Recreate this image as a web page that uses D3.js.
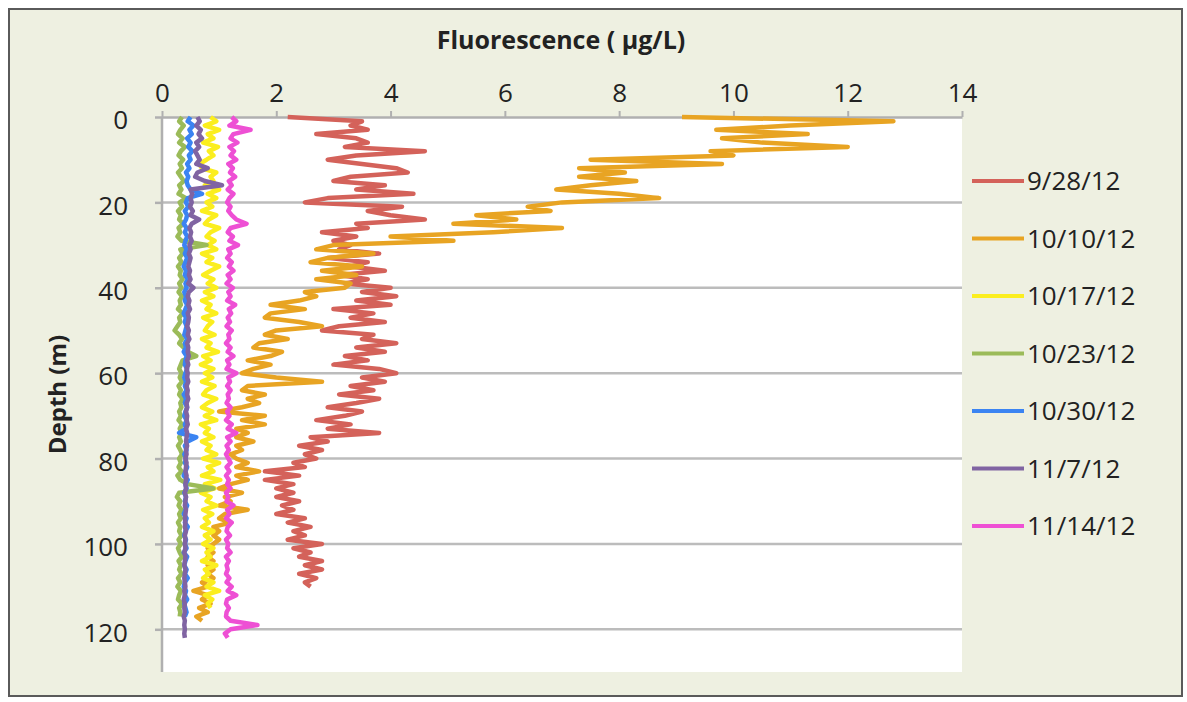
<!DOCTYPE html>
<html>
<head>
<meta charset="utf-8">
<script src="https://cdn.jsdelivr.net/npm/d3@7"></script>
<style>
  html, body { margin: 0; padding: 0; background: #fff; }
  svg { display: block; font-family: "Open Sans", sans-serif; }
</style>
</head>
<body>
<svg id="chart" width="1187" height="702"></svg>
<script>
// series names + colours (legend order)
const seriesNames = ['9/28/12', '10/10/12', '10/17/12', '10/23/12', '10/30/12', '11/7/12', '11/14/12'];
const seriesColors = ['#d4625a', '#e8a423', '#fbee1f', '#9bbb59', '#3b84f2', '#8064a2', '#ee50d4'];

const xTicks = [0, 2, 4, 6, 8, 10, 12, 14];
const yTicks = [0, 20, 40, 60, 80, 100, 120];

// fluorescence (ug/L) sampled every 1 m from the surface
const fl_0928 = [
  2.2, 3.5, 3.3, 3.6, 2.7, 3.4, 3.6, 3.2, 4.6, 3.4,
  2.9, 3.5, 4.1, 4.3, 3.3, 3.0, 3.9, 3.4, 4.4, 2.9,
  2.5, 4.2, 3.6, 4.0, 4.6, 3.4, 3.6, 2.8, 3.4, 3.0,
  3.3, 3.1, 3.8, 2.9, 3.6, 3.3, 3.9, 3.1, 3.6, 3.2,
  4.0, 3.5, 4.1, 3.4, 4.0, 3.0, 3.7, 3.3, 3.9, 3.1,
  2.8, 3.7, 3.5, 4.1, 3.4, 3.9, 3.2, 3.6, 3.0, 3.8,
  4.1, 3.5, 3.9, 3.3, 3.7, 3.1, 3.8, 3.4, 2.9, 3.5,
  3.2, 2.7, 3.3, 2.9, 3.8, 2.6, 2.9, 2.4, 2.8, 2.5,
  2.7, 2.3, 2.5, 1.8, 2.4, 1.8, 2.3, 2.0, 2.3, 2.0,
  2.4, 2.1, 2.3, 2.0, 2.5, 2.2, 2.6, 2.3, 2.5, 2.2,
  2.8, 2.3, 2.6, 2.4, 2.8, 2.5, 2.8, 2.4, 2.7, 2.5,
  2.6
];
const fl_1010 = [
  9.1, 12.8, 11.0, 9.7, 11.3, 9.8, 10.5, 12.0, 9.6, 10.0,
  7.5, 9.8, 7.3, 8.1, 7.3, 8.3, 7.5, 6.9, 8.0, 8.7,
  7.0, 6.4, 6.8, 5.5, 6.2, 5.1, 7.0, 5.8, 4.0, 5.1,
  3.0, 2.7, 3.7, 2.9, 2.6, 3.5, 2.8, 3.4, 2.7, 3.3,
  3.2, 2.5, 2.7, 2.4, 1.9, 2.5, 1.9, 1.8, 2.4, 2.8,
  2.0, 1.8, 2.2, 1.7, 1.6, 2.1, 1.9, 1.5, 1.9, 1.6,
  1.4, 2.0, 2.8, 1.5, 1.4, 1.8, 1.5, 1.7, 1.4, 1.0,
  1.8, 1.4, 1.8, 1.3, 1.5, 1.3, 1.6, 1.3, 1.4, 1.2,
  1.3, 1.5, 1.3, 1.7, 1.3, 1.5, 1.2, 1.0, 1.4, 1.1,
  1.2, 1.0, 1.5, 1.1, 1.0, 1.2, 0.9, 1.0, 0.9, 1.0,
  0.9, 0.8, 0.9, 0.8, 0.9, 0.8, 0.9, 0.8, 0.9, 0.7,
  0.8, 0.55, 0.8, 0.7, 0.85, 0.65, 0.8, 0.6, 0.7
];
const fl_1017 = [
  0.85, 0.95, 0.75, 1.0, 0.8, 0.9, 0.72, 0.98, 0.82, 0.9,
  0.78, 0.65, 0.7, 0.95, 0.85, 0.9, 0.75, 1.0, 0.8, 0.95,
  0.78, 0.88, 0.7, 0.95, 0.82, 0.75, 1.0, 0.85, 0.78, 0.92,
  0.8, 0.95, 0.7, 0.88, 0.78, 1.0, 0.85, 0.72, 0.9, 0.8,
  0.95, 0.75, 0.9, 0.7, 0.85, 0.78, 0.95, 0.72, 0.88, 0.8,
  0.75, 0.92, 0.7, 0.85, 0.78, 0.98, 0.72, 0.85, 0.68, 0.9,
  0.75, 0.88, 0.7, 0.92, 0.78, 0.72, 0.95, 0.8, 0.7, 0.88,
  0.75, 0.95, 0.68, 0.82, 0.75, 0.9, 0.7, 0.85, 0.78, 0.95,
  0.72, 1.0, 0.8, 0.9, 0.7, 1.02, 0.75, 0.92, 0.68, 0.85,
  0.78, 0.95, 0.72, 0.88, 0.75, 0.82, 0.7, 0.9, 0.75, 0.85,
  0.72, 0.9, 0.78, 0.85, 0.7, 0.95, 0.75, 0.82, 0.72, 0.9,
  0.78, 1.0, 0.75, 0.88, 0.8, 0.85
];
const fl_1023 = [
  0.35, 0.3, 0.38, 0.32, 0.28, 0.36, 0.3, 0.4, 0.33, 0.29,
  0.37, 0.31, 0.35, 0.28, 0.33, 0.38, 0.3, 0.34, 0.29, 0.42,
  0.31, 0.35, 0.28, 0.33, 0.3, 0.37, 0.29, 0.32, 0.27, 0.34,
  0.78, 0.32, 0.36, 0.3, 0.34, 0.28, 0.33, 0.31, 0.36, 0.3,
  0.34, 0.29, 0.35, 0.31, 0.33, 0.28, 0.36, 0.3, 0.32, 0.27,
  0.22, 0.3, 0.35, 0.3, 0.38, 0.45, 0.6, 0.36, 0.33, 0.3,
  0.34, 0.31, 0.35, 0.29, 0.33, 0.3, 0.36, 0.32, 0.34, 0.3,
  0.33, 0.29, 0.35, 0.31, 0.34, 0.3, 0.33, 0.28, 0.32, 0.35,
  0.3, 0.33, 0.29, 0.34, 0.27, 0.32, 0.45, 0.9, 0.3, 0.26,
  0.32, 0.29, 0.34, 0.3, 0.33, 0.28, 0.32, 0.3, 0.34, 0.29,
  0.33, 0.28, 0.31, 0.35, 0.29, 0.33, 0.3, 0.34, 0.28, 0.32,
  0.27, 0.33, 0.3, 0.28, 0.35, 0.3, 0.32, 0.31
];
const fl_1030 = [
  0.5, 0.45, 0.55, 0.48, 0.52, 0.44, 0.5, 0.46, 0.53, 0.47,
  0.5, 0.44, 0.48, 0.42, 0.46, 0.43, 0.45, 0.5, 0.7, 0.45,
  0.42, 0.46, 0.4, 0.44, 0.42, 0.38, 0.43, 0.4, 0.44, 0.41,
  0.39, 0.43, 0.4, 0.44, 0.41, 0.38, 0.42, 0.4, 0.45, 0.41,
  0.43, 0.39, 0.42, 0.4, 0.44, 0.41, 0.38, 0.42, 0.4, 0.43,
  0.41, 0.39, 0.44, 0.4, 0.42, 0.38, 0.43, 0.41, 0.4, 0.44,
  0.41, 0.39, 0.42, 0.4, 0.43, 0.38, 0.42, 0.4, 0.44, 0.41,
  0.39, 0.43, 0.4, 0.42, 0.3, 0.6, 0.45, 0.4, 0.43, 0.39,
  0.42, 0.4, 0.44, 0.41, 0.38, 0.45, 0.41, 0.43, 0.39, 0.42,
  0.4, 0.44, 0.41, 0.38, 0.43, 0.4, 0.45, 0.41, 0.39, 0.42,
  0.4, 0.43, 0.38, 0.44, 0.41, 0.39, 0.43, 0.4, 0.45, 0.4,
  0.38, 0.42, 0.4, 0.44, 0.39, 0.41, 0.43, 0.4
];
const fl_1107 = [
  0.62, 0.66, 0.6, 0.68, 0.64, 0.7, 0.6, 0.65, 0.58, 0.62,
  0.66, 0.6, 0.8, 0.62, 0.58, 0.75, 1.05, 0.5, 0.53, 0.5,
  0.52, 0.49, 0.54, 0.5, 0.65, 0.52, 0.48, 0.51, 0.49, 0.52,
  0.48, 0.5, 0.47, 0.5, 0.48, 0.46, 0.49, 0.47, 0.5, 0.46,
  0.55, 0.47, 0.45, 0.48, 0.46, 0.49, 0.45, 0.47, 0.46, 0.44,
  0.47, 0.45, 0.48, 0.44, 0.46, 0.45, 0.47, 0.44, 0.46, 0.43,
  0.45, 0.44, 0.46, 0.43, 0.45, 0.44, 0.46, 0.43, 0.44, 0.42,
  0.44, 0.43, 0.45, 0.42, 0.44, 0.43, 0.42, 0.44, 0.42, 0.43,
  0.41, 0.43, 0.42, 0.41, 0.43, 0.42, 0.41, 0.42, 0.4, 0.42,
  0.41, 0.4, 0.42, 0.41, 0.4, 0.41, 0.4, 0.42, 0.4, 0.41,
  0.4, 0.41, 0.39, 0.41, 0.4, 0.39, 0.41, 0.4, 0.39, 0.4,
  0.41, 0.39, 0.4, 0.38, 0.4, 0.39, 0.4, 0.38, 0.4, 0.39,
  0.4, 0.39, 0.4
];
const fl_1114 = [
  1.22, 1.3, 1.18, 1.55, 1.25, 1.2, 1.32, 1.18, 1.26, 1.2,
  1.3, 1.16, 1.24, 1.19, 1.28, 1.17, 1.22, 1.15, 1.25, 1.18,
  1.14, 1.2, 1.16, 1.22, 1.3, 1.48, 1.2, 1.15, 1.24, 1.18,
  1.33, 1.16, 1.2, 1.14, 1.22, 1.17, 1.25, 1.15, 1.2, 1.13,
  1.24, 1.16, 1.2, 1.14, 1.28, 1.17, 1.21, 1.15, 1.19, 1.13,
  1.22, 1.16, 1.18, 1.12, 1.2, 1.15, 1.25, 1.14, 1.18, 1.13,
  1.3, 1.16, 1.19, 1.14, 1.2, 1.15, 1.17, 1.13, 1.2, 1.14,
  1.18, 1.12, 1.22, 1.15, 1.3, 1.14, 1.2, 1.13, 1.17, 1.12,
  1.16, 1.2, 1.13, 1.18, 1.12, 1.17, 1.14, 1.2, 1.12, 1.16,
  1.13, 1.25, 1.14, 1.18, 1.12, 1.22, 1.15, 1.13, 1.19, 1.12,
  1.16, 1.14, 1.2, 1.12, 1.17, 1.13, 1.15, 1.12, 1.18, 1.13,
  1.22, 1.15, 1.3, 1.14, 1.12, 1.17, 1.13, 1.12, 1.2, 1.67,
  1.2, 1.1, 1.15
];
const allSeries = [fl_0928, fl_1010, fl_1017, fl_1023, fl_1030, fl_1107, fl_1114];

const plot = { left: 162, right: 962, top: 117, bottom: 672 };
const font = '"Open Sans", sans-serif';

const svg = d3.select('#chart');

// outer chart frame
svg.append('rect')
  .attr('x', 9).attr('y', 9)
  .attr('width', 1173).attr('height', 687)
  .attr('fill', '#eef0e1')
  .attr('stroke', '#5a5a5a')
  .attr('stroke-width', 2);

// plot area
svg.append('rect')
  .attr('x', plot.left).attr('y', plot.top)
  .attr('width', plot.right - plot.left).attr('height', plot.bottom - plot.top)
  .attr('fill', '#fff');

const x = d3.scaleLinear().domain([0, 14]).range([plot.left, plot.right]);
const y = d3.scaleLinear().domain([0, 130]).range([plot.top, plot.bottom]);

// horizontal gridlines
svg.append('g')
  .selectAll('line')
  .data(yTicks.slice(1))
  .enter().append('line')
  .attr('x1', plot.left).attr('x2', plot.right)
  .attr('y1', d => y(d)).attr('y2', d => y(d))
  .attr('stroke', '#bcbcbc')
  .attr('stroke-width', 2.5);

// top axis
const xAxis = svg.append('g')
  .attr('transform', `translate(0,${plot.top})`)
  .call(d3.axisTop(x).tickValues(xTicks).tickSize(6).tickPadding(9).tickSizeOuter(0));
xAxis.select('.domain').attr('stroke', '#b0b0b0').attr('stroke-width', 2.5);
xAxis.selectAll('.tick line').attr('stroke', '#b0b0b0').attr('stroke-width', 2);
xAxis.selectAll('.tick text')
  .attr('font-family', font).attr('font-size', 26).attr('fill', '#222');

// left axis
const yAxis = svg.append('g')
  .attr('transform', `translate(${plot.left},0)`)
  .call(d3.axisLeft(y).tickValues(yTicks).tickSize(7).tickPadding(27).tickSizeOuter(0));
yAxis.select('.domain').attr('stroke', '#b0b0b0').attr('stroke-width', 2.5)
  .attr('d', `M0,${plot.top}V${plot.bottom}`);
yAxis.selectAll('.tick line').attr('stroke', '#b0b0b0').attr('stroke-width', 2.5);
yAxis.selectAll('.tick text')
  .attr('font-family', font).attr('font-size', 26).attr('fill', '#222')
  .attr('dy', '0.45em');

// profiles, drawn in legend order so later dates sit on top
const line = d3.line()
  .x(d => x(d))
  .y((d, i) => y(i));

svg.append('g')
  .selectAll('path')
  .data(allSeries)
  .enter().append('path')
  .attr('d', line)
  .attr('fill', 'none')
  .attr('stroke', (d, i) => seriesColors[i])
  .attr('stroke-width', 4.5)
  .attr('stroke-linejoin', 'round');

// axis titles
svg.append('text')
  .attr('x', 561).attr('y', 49)
  .attr('text-anchor', 'middle')
  .attr('font-family', font).attr('font-weight', 700).attr('font-size', 25)
  .attr('fill', '#222')
  .text('Fluorescence ( µg/L)');

svg.append('text')
  .attr('transform', `translate(66,${(plot.top + plot.bottom) / 2}) rotate(-90)`)
  .attr('text-anchor', 'middle')
  .attr('font-family', font).attr('font-weight', 700).attr('font-size', 24)
  .attr('fill', '#222')
  .text('Depth (m)');

// legend
const legend = svg.append('g')
  .selectAll('g')
  .data(seriesNames)
  .enter().append('g')
  .attr('transform', (d, i) => `translate(972,${181 + i * 57.5})`);

legend.append('line')
  .attr('x1', 0).attr('x2', 52)
  .attr('stroke', (d, i) => seriesColors[i])
  .attr('stroke-width', 4);

legend.append('text')
  .attr('x', 55).attr('dy', '0.36em')
  .attr('font-family', font).attr('font-size', 26)
  .attr('fill', '#222')
  .text(d => d);
</script>
</body>
</html>
